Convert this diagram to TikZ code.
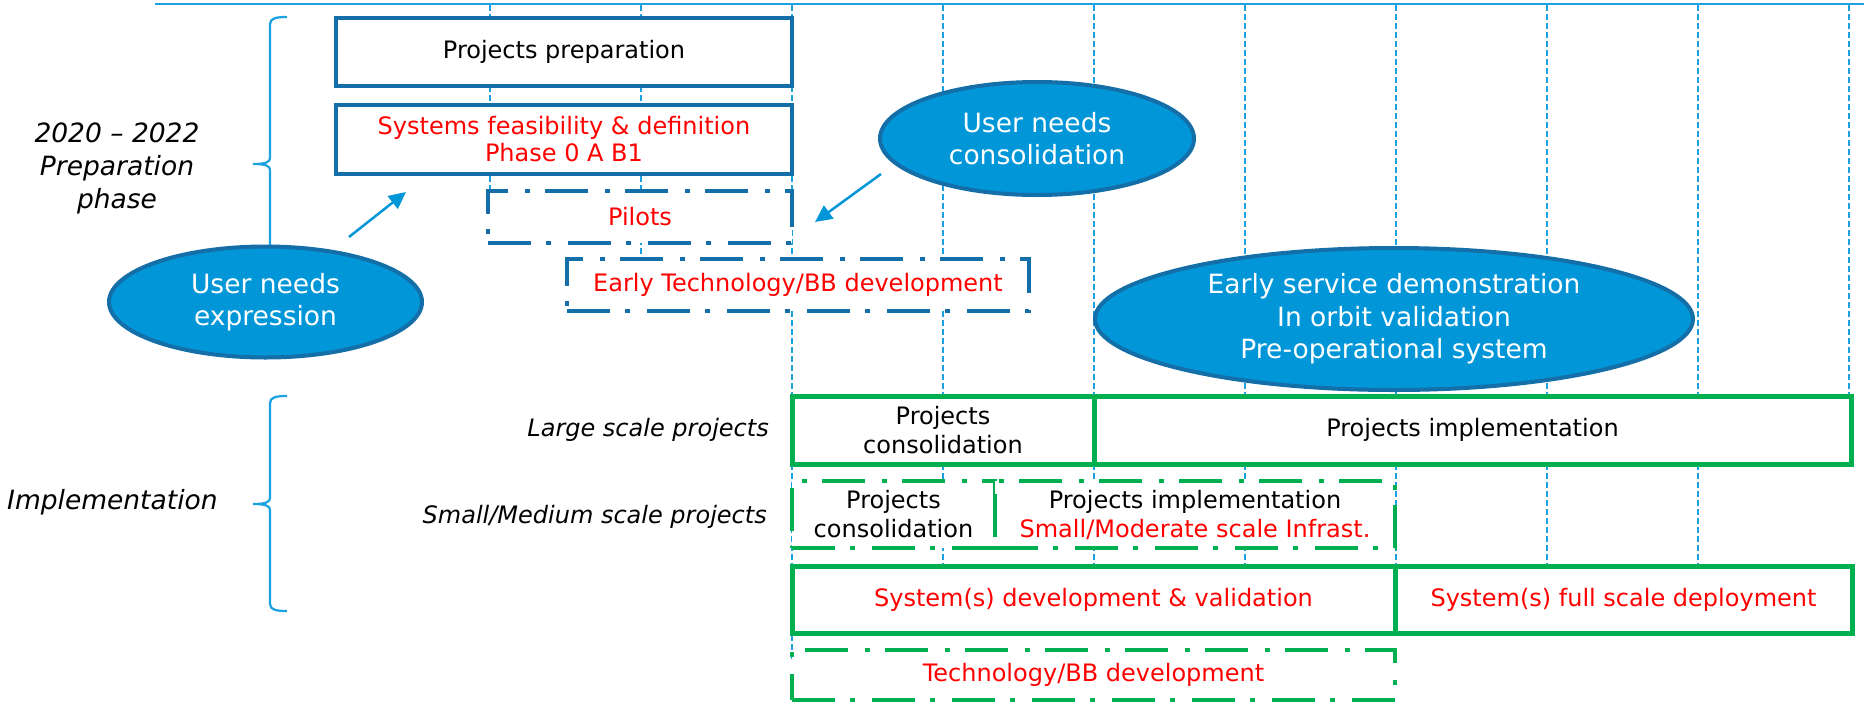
\documentclass[tikz,border=0pt]{standalone}
\usepackage{fontspec}
\setmainfont{DejaVu Sans}
\usetikzlibrary{arrows.meta,shapes.geometric}
\definecolor{lblue}{RGB}{27,160,224}
\definecolor{dblue}{RGB}{20,110,168}
\definecolor{efill}{RGB}{0,150,216}
\definecolor{grn}{RGB}{0,176,80}
\definecolor{rd}{RGB}{255,0,0}
\newcommand\dfont{\fontsize{24}{27}\selectfont}
\newcommand\gfont{\fontsize{24}{29}\selectfont}
\newcommand\efont{\fontsize{26.5}{32.5}\selectfont}
\newcommand\lfont{\fontsize{26.5}{33}\selectfont}
\tikzset{
  vline/.style={draw=lblue, line width=1.5pt, dash pattern=on 6pt off 3pt},
  bracestyle/.style={draw=lblue, line width=2.2pt},
  bbox/.style={draw=dblue, fill=white, line width=4.5pt, inner sep=0pt, align=center, font=\dfont},
  bdash/.style={bbox, line width=4pt, dash pattern=on 43pt off 15pt on 5pt off 17pt},
  gbox/.style={draw=grn, fill=white, line width=5pt, inner sep=0pt, align=center, font=\gfont},
  gdash/.style={gbox, line width=4.5pt, dash pattern=on 43pt off 15pt on 5pt off 17pt},
  ell/.style={ellipse, draw=dblue, fill=efill, line width=4pt, inner sep=0pt, align=center, text=white, font=\efont},
  arr/.style={draw=efill, line width=2.5pt, -{Triangle[length=17pt,width=16pt]}},
  lab/.style={font=\gfont\itshape, align=center, inner sep=0pt},
  biglab/.style={font=\lfont\itshape, align=center, inner sep=0pt}
}
\begin{document}
\begin{tikzpicture}[x=1pt,y=-1pt]
\useasboundingbox (0,0) rectangle (1864,702);
% top line
\draw[draw=lblue, line width=2pt] (155,4) -- (1864,4);
% vertical grid lines
\draw[vline] (490,5) -- (490,243);
\draw[vline] (641,5) -- (641,285);
\draw[vline] (792,5) -- (792,660);
\foreach \x in {943,1094,1245,1396,1547,1698} {\draw[vline] (\x,5) -- (\x,600);}
\draw[vline] (1849,5) -- (1849,400);
% braces
\draw[bracestyle] (287,17) .. controls (277,17) and (270,18) .. (270,24) -- (270,158)
  .. controls (270,162) and (266,164) .. (253,164)
  .. controls (266,164) and (270,166) .. (270,170) -- (270,304)
  .. controls (270,310) and (277,311) .. (287,311);
\draw[bracestyle] (287,396) .. controls (277,396) and (270,397) .. (270,403) -- (270,498)
  .. controls (270,502) and (266,504) .. (253,504)
  .. controls (266,504) and (270,506) .. (270,510) -- (270,604)
  .. controls (270,610) and (277,611) .. (287,611);
% left labels
\node[biglab] (prep) at (117,168) {2020 -- 2022\\Preparation\\phase};
\node[biglab, anchor=west] (impl) at (7,502) {Implementation};
\node[lab, anchor=east] (large) at (769,430) {Large scale projects};
\node[lab, anchor=east] (small) at (767,517) {Small/Medium scale projects};
% preparation boxes
\node[bbox, minimum width=456pt, minimum height=68pt] (pp) at (564,52) {Projects preparation};
\node[bbox, minimum width=456pt, minimum height=69pt, text=rd] (sf) at (564,139.5) {Systems feasibility \& definition\\Phase 0 A B1};
\node[bdash, minimum width=304pt, minimum height=52pt, text=rd] (pil) at (640,217) {Pilots};
\node[bdash, minimum width=462pt, minimum height=52pt, text=rd] (etb) at (798,285) {Early Technology/BB development};
% implementation boxes
\node[gbox, minimum width=302pt, minimum height=68pt] (lpc) at (943,430) {Projects\\consolidation};
\node[gbox, minimum width=757pt, minimum height=68pt] (lpi) at (1472.5,430) {Projects implementation};
\node[gdash, minimum width=203pt, minimum height=67pt] (spc) at (893.5,514.5) {Projects\\consolidation};
\node[gdash, minimum width=400pt, minimum height=67pt] (spi) at (1195,514.5) {Projects implementation\\\textcolor{rd}{Small/Moderate scale Infrast.}};
\node[gbox, minimum width=603pt, minimum height=67pt, text=rd] (sdv) at (1093.5,599.5) {System(s) development \& validation};
\node[gbox, minimum width=457pt, minimum height=67pt, text=rd] (sfd) at (1623.5,599.5) {System(s) full scale deployment};
\node[gdash, minimum width=603pt, minimum height=50pt, text=rd] (tbb) at (1093.5,675) {Technology/BB development};
% ellipses
\node[ell, minimum width=314pt, minimum height=113pt] (unc) at (1037,138.5) {User needs\\consolidation};
\node[ell, minimum width=313pt, minimum height=111pt] (une) at (265.5,302) {User needs\\expression};
\node[ell, minimum width=598pt, minimum height=142pt] (esd) at (1394,319) {Early service demonstration\\In orbit validation\\Pre-operational system};
% arrows
\coordinate (a1s) at (349,237);
\coordinate (a1e) at (406,192);
\coordinate (a2s) at (881,174);
\coordinate (a2e) at (815,222);
\draw[arr] (a1s) -- (a1e);
\draw[arr] (a2s) -- (a2e);
\end{tikzpicture}
\end{document}
